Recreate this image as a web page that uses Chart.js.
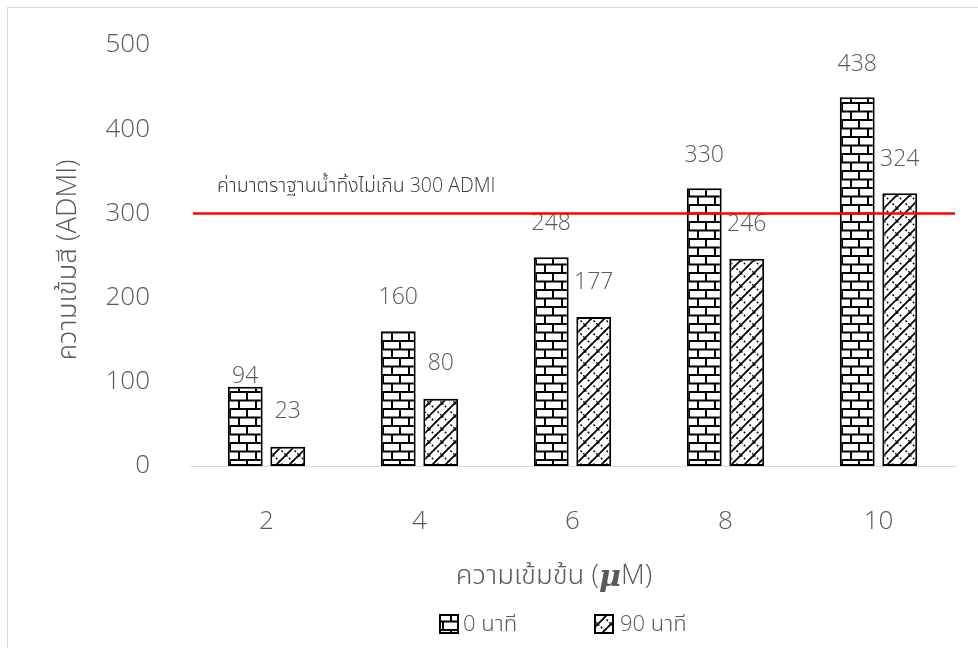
<!DOCTYPE html>
<html>
<head>
<meta charset="utf-8">
<script src="https://cdn.jsdelivr.net/npm/chart.js@4.4.1/dist/chart.umd.min.js"></script>
<style>
  html, body { margin: 0; padding: 0; background: #fff; }
  #wrap { width: 978px; height: 648px; }
</style>
</head>
<body>
<div id="wrap"><canvas id="myChart" width="978" height="648"></canvas></div>
<script>
// concentration (uM) on x, colour intensity (ADMI) on y
const concentrations = ["2", "4", "6", "8", "10"];
const seriesNames = ["0 นาที", "90 นาที"];
const colour0min = [94, 160, 248, 330, 438];
const colour90min = [23, 80, 177, 246, 324];
const yTicks = [0, 100, 200, 300, 400, 500];
const standardLimit = 300;
const standardText = "ค่ามาตราฐานน้ำทิ้งไม่เกิน 300 ADMI";

// how far each value label sits above its bar
const labelLift = [[10, 34, 34, 33, 33], [35, 35, 35, 34, 34]];

const FONT = "'Open Sans', 'Noto Sans', 'Noto Sans Thai', sans-serif";
const GREY = "#595959";

function brickPattern(ctx) {
    const c = document.createElement("canvas");
    c.width = 17; c.height = 17;
    const g = c.getContext("2d");
    g.fillStyle = "#fff";
    g.fillRect(0, 0, 17, 17);
    g.fillStyle = "#000";
    g.fillRect(0, 0, 17, 2);
    g.fillRect(0, 8.5, 17, 2);
    g.fillRect(8, 0, 2, 9);
    g.fillRect(0, 9, 2, 8);
    return ctx.createPattern(c, "repeat");
}

function hatchPattern(ctx) {
    const c = document.createElement("canvas");
    c.width = 13; c.height = 13;
    const g = c.getContext("2d");
    g.fillStyle = "#fff";
    g.fillRect(0, 0, 13, 13);
    g.strokeStyle = "#000";
    g.lineWidth = 1.8;
    g.beginPath();
    g.moveTo(-1, 14); g.lineTo(14, -1);
    g.stroke();
    g.lineWidth = 1.4;
    g.setLineDash([2, 2]);
    g.beginPath();
    g.moveTo(0, 0); g.lineTo(13, 13);
    g.stroke();
    return ctx.createPattern(c, "repeat");
}

const myChartRef = document.getElementById("myChart").getContext("2d");
const fills = [brickPattern(myChartRef), hatchPattern(myChartRef)];

const extras = {
    id: "extras",
    beforeDraw(chart) {
        const ctx = chart.ctx;
        ctx.save();
        ctx.fillStyle = "#fff";
        ctx.fillRect(0, 0, chart.width, chart.height);
        ctx.strokeStyle = "#d9d9d9";
        ctx.lineWidth = 1;
        ctx.strokeRect(7.5, 7.5, 1000, 700);
        ctx.restore();
    },
    afterDatasetsDraw(chart) {
        const ctx = chart.ctx;
        const area = chart.chartArea;
        const y = chart.scales.y;
        ctx.save();

        // value labels
        ctx.font = "300 23px " + FONT;
        ctx.fillStyle = GREY;
        ctx.textAlign = "center";
        ctx.textBaseline = "middle";
        chart.data.datasets.forEach((ds, i) => {
            chart.getDatasetMeta(i).data.forEach((bar, j) => {
                ctx.fillText(String(ds.data[j]), bar.x, bar.y - labelLift[i][j]);
            });
        });

        // standard limit line
        const ly = y.getPixelForValue(standardLimit);
        ctx.strokeStyle = "#ff0000";
        ctx.lineWidth = 2.5;
        ctx.beginPath();
        ctx.moveTo(area.left + 3, ly);
        ctx.lineTo(area.right, ly);
        ctx.stroke();
        ctx.font = "300 19.5px " + FONT;
        ctx.fillStyle = "#404040";
        ctx.textAlign = "left";
        ctx.fillText(standardText, 217, ly - 27);

        // axis titles
        ctx.fillStyle = GREY;
        ctx.font = "300 27.5px " + FONT;
        ctx.save();
        ctx.translate(68, 260);
        ctx.rotate(-Math.PI / 2);
        ctx.textAlign = "center";
        ctx.fillText("ความเข้มสี (ADMI)", 0, 0);
        ctx.restore();

        const pre = "ความเข้มข้น (";
        const mu = "μ";
        const post = "M)";
        const fPlain = "300 27.5px " + FONT;
        const fMu = "italic bold 30px 'DejaVu Serif', serif";
        ctx.font = fPlain;
        const w1 = ctx.measureText(pre).width;
        const w3 = ctx.measureText(post).width;
        ctx.font = fMu;
        const w2 = ctx.measureText(mu).width;
        let x = 554 - (w1 + w2 + w3) / 2;
        ctx.textAlign = "left";
        ctx.font = fPlain;
        ctx.fillText(pre, x, 576);
        x += w1;
        ctx.font = fMu;
        ctx.fillText(mu, x, 578);
        x += w2;
        ctx.font = fPlain;
        ctx.fillText(post, x, 576);

        // legend
        const items = [[440, 463], [595, 620]];
        ctx.font = "300 22px " + FONT;
        seriesNames.forEach((name, i) => {
            const [bx, tx] = items[i];
            ctx.fillStyle = fills[i];
            ctx.fillRect(bx, 615, 18, 18);
            ctx.strokeStyle = "#000";
            ctx.lineWidth = 2;
            ctx.strokeRect(bx, 615, 18, 18);
            ctx.fillStyle = GREY;
            ctx.fillText(name, tx, 625);
        });
        ctx.restore();
    }
};

new Chart(myChartRef, {
    type: "bar",
    data: {
        labels: concentrations,
        datasets: [
            {
                label: seriesNames[0],
                data: colour0min,
                backgroundColor: fills[0],
                borderColor: "#000",
                borderWidth: 2,
                borderSkipped: false
            },
            {
                label: seriesNames[1],
                data: colour90min,
                backgroundColor: fills[1],
                borderColor: "#000",
                borderWidth: 2,
                borderSkipped: false
            }
        ]
    },
    options: {
        responsive: false,
        animation: false,
        events: [],
        categoryPercentage: 0.556,
        barPercentage: 0.82,
        layout: { padding: { left: 0, right: 23, top: 45, bottom: 0 } },
        plugins: {
            legend: { display: false },
            tooltip: { enabled: false }
        },
        scales: {
            x: {
                grid: { display: false, drawTicks: false },
                border: { display: true, color: "#d9d9d9", width: 1 },
                ticks: { color: GREY, font: { family: FONT, size: 26, weight: 300 }, padding: 40 },
                afterFit(scale) { scale.height = 182; }
            },
            y: {
                min: 0,
                max: 500,
                grid: { display: false, drawTicks: false },
                border: { display: false },
                afterBuildTicks(scale) { scale.ticks = yTicks.map(v => ({ value: v })); },
                ticks: { color: GREY, font: { family: FONT, size: 26, weight: 300 }, padding: 40 },
                afterFit(scale) {
                    scale.width = 190;
                    // the tick padding otherwise pushes the plot top down
                    scale.paddingTop = 0;
                    scale.paddingBottom = 0;
                }
            }
        }
    },
    plugins: [extras]
});
</script>
</body>
</html>
